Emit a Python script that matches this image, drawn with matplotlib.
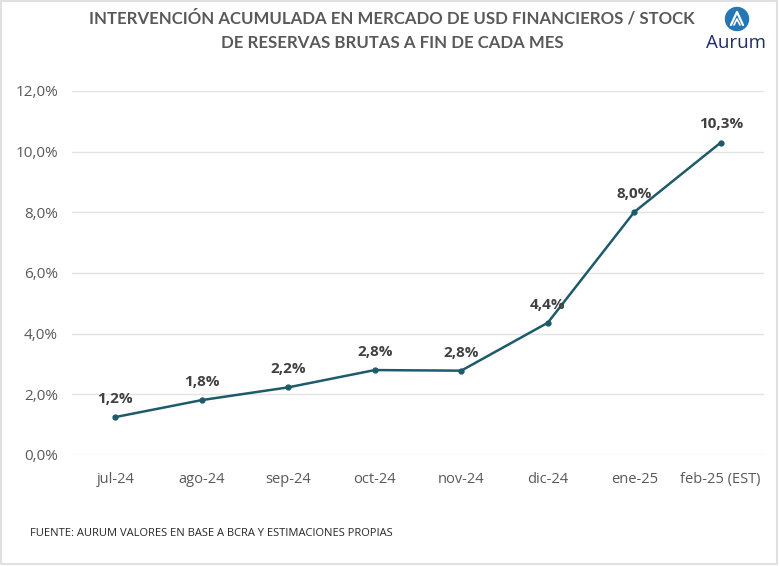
import matplotlib.pyplot as plt
from matplotlib.patches import Circle, Rectangle

# data
months = ['jul-24', 'ago-24', 'sep-24', 'oct-24', 'nov-24', 'dic-24', 'ene-25', 'feb-25 (EST)']
values = [1.25, 1.81, 2.23, 2.80, 2.78, 4.36, 8.01, 10.30]
labels = ['1,2%', '1,8%', '2,2%', '2,8%', '2,8%', '4,4%', '8,0%', '10,3%']
yticks = [0, 2, 4, 6, 8, 10, 12]

line_color = '#1d5b6b'
text_gray = '#595959'

fig = plt.figure(figsize=(7.8, 5.66), dpi=100)
fig.patch.set_facecolor('white')

ax = fig.add_axes([72/780, 1 - 455/566, 692/780, 364/566])
x = list(range(len(months)))
ax.plot(x, values, color=line_color, linewidth=1.8, marker='o', markersize=3.5, zorder=3)

for xi, v, lab in zip(x, values, labels):
    ax.annotate(lab, (xi, v), textcoords='offset points', xytext=(0, 8),
                ha='center', va='bottom', fontsize=11, fontweight='bold',
                color='#404040', family='Open Sans')

ax.set_xlim(-0.5, len(months) - 0.5)
ax.set_ylim(0, 12)
ax.set_yticks(yticks)
ax.set_yticklabels([f'{t},0%' for t in yticks], fontsize=11, color=text_gray, family='Open Sans')
ax.set_xticks(x)
ax.set_xticklabels(months, fontsize=10.5, color=text_gray, family='Open Sans')
ax.tick_params(axis='both', length=0)
ax.tick_params(axis='y', pad=10)
ax.tick_params(axis='x', pad=12)
ax.grid(axis='y', color='#e3e3e3', linewidth=1)
ax.set_axisbelow(True)
for s in ax.spines.values():
    s.set_visible(False)

# title
fig.text(392/780, 1 - 18/566, 'INTERVENCIÓN ACUMULADA EN MERCADO DE USD FINANCIEROS / STOCK',
         ha='center', va='center', fontsize=12.1, fontweight='bold', color='#595959',
         family='Lato')
fig.text(392/780, 1 - 43/566, 'DE RESERVAS BRUTAS A FIN DE CADA MES',
         ha='center', va='center', fontsize=12.1, fontweight='bold', color='#595959',
         family='Lato')

# logo
logo = fig.add_axes([0, 0, 1, 1], facecolor='none')
logo.set_xlim(0, 780)
logo.set_ylim(566, 0)
logo.axis('off')
logo.add_patch(Circle((737, 19), 11.5, color='#2476b5'))
logo.plot([731, 737, 743], [25, 12, 25], color='white', linewidth=1.6, solid_capstyle='round')
logo.plot([734, 737, 740], [25, 19, 25], color='white', linewidth=1.2, solid_capstyle='round')
logo.text(736, 43, 'Aurum', ha='center', va='center', fontsize=13.5, color='#1f2d6a', family='Open Sans')

# frame
logo.add_patch(Rectangle((1, 1), 776, 563, fill=False, edgecolor='#e0e0e0', linewidth=1.5))

# source
fig.text(30/780, 1 - 534/566, 'FUENTE: AURUM VALORES EN BASE A BCRA Y ESTIMACIONES PROPIAS',
         ha='left', va='center', fontsize=8, color='#262626', family='Open Sans')

fig.savefig('out.png', dpi=100, facecolor='white')
